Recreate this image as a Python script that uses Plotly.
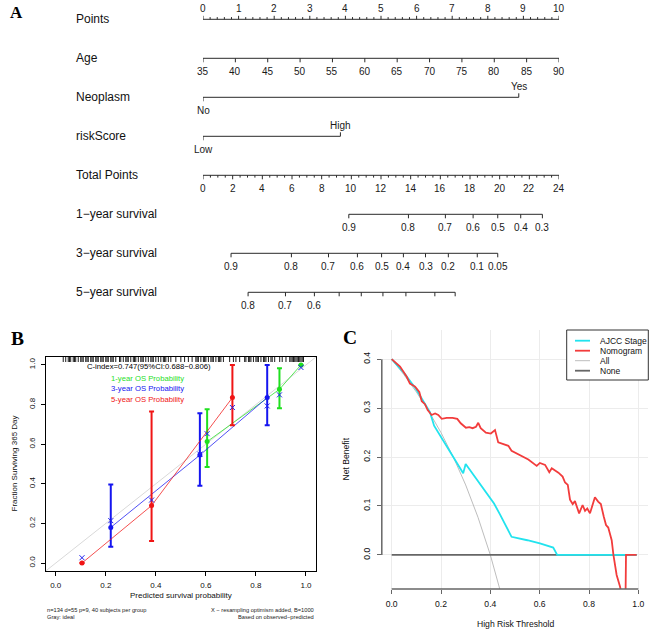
import plotly.graph_objects as go

W, H = 668, 639
SANS = "Liberation Sans, Arial, Helvetica, sans-serif"
SERIF = "Liberation Serif, Times New Roman, serif"

# ---------------- Panel A: nomogram data ----------------
row_names = ["Points", "Age", "Neoplasm", "riskScore", "Total Points",
             "1\u2212year survival", "3\u2212year survival", "5\u2212year survival"]
points_ticks = [0, 1, 2, 3, 4, 5, 6, 7, 8, 9, 10]
age_ticks = [35, 40, 45, 50, 55, 60, 65, 70, 75, 80, 85, 90]
neoplasm_levels = ["No", "Yes"]
neoplasm_points = [0.0, 8.87]
risk_levels = ["Low", "High"]
risk_points = [0.0, 3.86]
total_ticks = [0, 2, 4, 6, 8, 10, 12, 14, 16, 18, 20, 22, 24]
surv1_labels = ["0.9", "0.8", "0.7", "0.6", "0.5", "0.4", "0.3"]
surv1_total = [9.83, 13.85, 16.34, 18.21, 19.87, 21.42, 22.88]
surv3_labels = ["0.9", "0.8", "0.7", "0.6", "0.5", "0.4", "0.3", "0.2", "0.1", "0.05"]
surv3_total = [1.89, 5.96, 8.46, 10.41, 12.04, 13.51, 15.00, 16.54, 18.49, 19.87]
surv5_labels = ["0.8", "0.7", "0.6", "", "", "", "", "", ""]
surv5_total = [3.04, 5.56, 7.51, 9.18, 10.67, 12.13, 13.68, 15.63, 17.00]

# ---------------- Panel B: calibration data ----------------
cal1_pred = [0.605, 0.894, 0.980]
cal1_obs = [0.613, 0.877, 1.000]
cal1_lo = [0.485, 0.781, 1.000]
cal1_hi = [0.776, 0.983, 1.000]
cal1_corr = [0.653, 0.849, 0.987]

cal3_pred = [0.220, 0.576, 0.845]
cal3_obs = [0.180, 0.545, 0.835]
cal3_lo = [0.083, 0.390, 0.695]
cal3_hi = [0.396, 0.756, 1.000]
cal3_corr = [0.214, 0.550, 0.793]

cal5_pred = [0.105, 0.383, 0.706]
cal5_obs = [0.000, 0.290, 0.835]
cal5_lo = [0.000, 0.111, 0.695]
cal5_hi = [0.000, 0.765, 1.000]
cal5_corr = [0.027, 0.318, 0.785]

rug_pred = [0.03, 0.04, 0.05, 0.055, 0.06, 0.07, 0.075, 0.08, 0.09, 0.10, 0.105, 0.11,
            0.12, 0.125, 0.13, 0.14, 0.145, 0.15, 0.16, 0.165, 0.17, 0.18, 0.185, 0.19,
            0.20, 0.205, 0.21, 0.22, 0.225, 0.23, 0.24,
            0.255, 0.26, 0.27, 0.28, 0.285, 0.29, 0.30, 0.31, 0.315, 0.32, 0.33, 0.34,
            0.345, 0.35, 0.36, 0.37, 0.38, 0.385, 0.39, 0.40, 0.41, 0.42, 0.43, 0.435,
            0.44, 0.45, 0.46,
            0.48, 0.50, 0.515, 0.53, 0.545,
            0.56, 0.565, 0.57, 0.58, 0.59, 0.595, 0.60, 0.61, 0.62, 0.625, 0.63, 0.64,
            0.65, 0.655, 0.66, 0.67,
            0.695, 0.71, 0.72, 0.735,
            0.755, 0.76, 0.77, 0.775, 0.78, 0.79, 0.80, 0.805, 0.81, 0.82, 0.83, 0.835,
            0.84, 0.85, 0.86, 0.865, 0.875,
            0.895, 0.905, 0.92,
            0.935, 0.94, 0.945, 0.95, 0.955, 0.96, 0.965, 0.97, 0.975, 0.98, 0.985, 0.99]

# ---------------- Panel C: decision curve data ----------------
nomo_t = [0.0, 0.034, 0.061, 0.074, 0.095, 0.112, 0.122, 0.135, 0.146, 0.162, 0.176, 0.189,
          0.203, 0.223, 0.247, 0.266, 0.280, 0.301, 0.315, 0.328, 0.342, 0.351, 0.361,
          0.382, 0.402, 0.419, 0.432, 0.473, 0.486, 0.520, 0.554, 0.588, 0.601, 0.622,
          0.639, 0.649, 0.676, 0.693, 0.703, 0.714, 0.723, 0.734, 0.743, 0.760, 0.774,
          0.784, 0.793, 0.804, 0.824, 0.837, 0.848, 0.860, 0.869, 0.878, 0.892, 0.899,
          0.912, 0.926, 0.935, 0.948, 0.950, 0.993]
nomo_nb = [0.400, 0.385, 0.364, 0.350, 0.344, 0.333, 0.314, 0.308, 0.296, 0.286, 0.289, 0.286,
           0.278, 0.280, 0.280, 0.278, 0.269, 0.260, 0.261, 0.259, 0.262, 0.270, 0.259,
           0.250, 0.248, 0.255, 0.230, 0.223, 0.213, 0.204, 0.195, 0.182, 0.188, 0.184,
           0.169, 0.177, 0.168, 0.160, 0.148, 0.143, 0.113, 0.104, 0.110, 0.085, 0.102,
           0.090, 0.095, 0.085, 0.118, 0.109, 0.104, 0.078, 0.061, 0.056, 0.030, 0.000,
           -0.041, -0.065, -0.090, -0.090, 0.000, 0.000]
ajcc_t = [0.0, 0.05, 0.10, 0.13, 0.155, 0.172, 0.29, 0.30, 0.34, 0.385, 0.415, 0.439,
          0.459, 0.486, 0.55, 0.601, 0.655, 0.671, 0.993]
ajcc_nb = [0.400, 0.372, 0.338, 0.313, 0.292, 0.264, 0.167, 0.186, 0.158, 0.126, 0.105,
           0.083, 0.064, 0.037, 0.030, 0.0235, 0.015, 0.000, 0.000]
all_t = [0.0, 0.05, 0.10, 0.15, 0.20, 0.25, 0.30, 0.35, 0.40, 0.45]
all_nb = [0.400, 0.368, 0.333, 0.294, 0.250, 0.200, 0.143, 0.077, 0.000, -0.091]
none_t = [0.0, 0.993]
none_nb = [0.0, 0.0]
legend_names = ["AJCC Stage", "Nomogram", "All", "None"]


def fx(px):
    return px / W


def fy(py):
    return 1 - py / H


fig = go.Figure()

# ---------------- Panel A layout helpers ----------------
ROW0, ROW_PX = 19.3, 39.0
A_BOTTOM = 310.0
LABEL_LEFT = 74


def tl(px):
    return px / ROW_PX


LINE_A = "#2a2a2a"
annotations = []


def add_segments(segs, xaxis, color=LINE_A, width=1.0):
    xs, ys = [], []
    for x0, y0, x1, y1 in segs:
        xs += [x0, x1, None]
        ys += [y0, y1, None]
    fig.add_trace(go.Scatter(x=xs, y=ys, mode="lines", xaxis=xaxis, yaxis="y",
                             line=dict(color=color, width=width),
                             hoverinfo="skip", showlegend=False))


def tick_label(text, x, xref, row, above):
    if text == "":
        return
    annotations.append(dict(text=text, x=x, xref=xref, y=row, yref="y",
                            xanchor="center", yanchor="middle",
                            yshift=11.3 if above else -12.8, showarrow=False,
                            font=dict(family=SANS, size=10, color="#1a1a1a")))


# row labels
for i, name in enumerate(row_names):
    annotations.append(dict(text=name, x=fx(LABEL_LEFT), xref="paper", xanchor="left",
                            y=i, yref="y", yanchor="middle", showarrow=False,
                            font=dict(family=SANS, size=12, color="#111")))

# Points row (0)
segs = [(points_ticks[0], 0, points_ticks[-1], 0)]
for v in points_ticks:
    segs.append((v, 0, v, -tl(3.5)))
    tick_label(str(v), v, "x", 0, True)
k = 0
while points_ticks[0] + 0.2 * k < points_ticks[-1]:
    v = points_ticks[0] + 0.2 * k
    if k % 5 != 0:
        segs.append((v, 0, v, -tl(2.2)))
    k += 1
add_segments(segs, "x")

# Age row (1)
segs = [(age_ticks[0], 1, age_ticks[-1], 1)]
for a in age_ticks:
    segs.append((a, 1, a, 1 + tl(4)))
    tick_label(str(a), a, "x5", 1, False)
add_segments(segs, "x5")

# categorical rows (2, 3)
for row, levels, pts in [(2, neoplasm_levels, neoplasm_points), (3, risk_levels, risk_points)]:
    segs = [(min(pts), row, max(pts), row)]
    for j, (lab, p) in enumerate(zip(levels, pts)):
        above = (j % 2 == 1)
        segs.append((p, row, p, row - tl(4) if above else row + tl(4)))
        tick_label(lab, p, "x", row, above)
    add_segments(segs, "x")

# Total points row (4)
segs = [(total_ticks[0], 4, total_ticks[-1], 4)]
for v in total_ticks:
    segs.append((v, 4, v, 4 + tl(4)))
    tick_label(str(v), v, "x2", 4, False)
k = 0
while total_ticks[0] + 0.5 * k < total_ticks[-1]:
    v = total_ticks[0] + 0.5 * k
    if k % 4 != 0:
        segs.append((v, 4, v, 4 + tl(2.3)))
    k += 1
add_segments(segs, "x2")

# survival rows (5, 6, 7)
for row, labels, tots in [(5, surv1_labels, surv1_total), (6, surv3_labels, surv3_total),
                          (7, surv5_labels, surv5_total)]:
    segs = [(min(tots), row, max(tots), row)]
    for lab, t in zip(labels, tots):
        segs.append((t, row, t, row + tl(4)))
        tick_label(lab, t, "x2", row, False)
    add_segments(segs, "x2")

# ---------------- Panel B: calibration ----------------
B_RANGE = [-0.04, 1.04]
b_px_per_unit = (571 - 357) / (B_RANGE[1] - B_RANGE[0])

fig.add_trace(go.Scatter(x=B_RANGE, y=B_RANGE, mode="lines", xaxis="x3", yaxis="y3",
                         line=dict(color="#d9d9d9", width=1), hoverinfo="skip",
                         showlegend=False))
rx, ry = [], []
rug_len = 5.0 / b_px_per_unit
for v in rug_pred:
    rx += [v, v, None]
    ry += [B_RANGE[1], B_RANGE[1] - rug_len, None]
fig.add_trace(go.Scatter(x=rx, y=ry, mode="lines", xaxis="x3", yaxis="y3",
                         line=dict(color="black", width=0.9), hoverinfo="skip",
                         showlegend=False))

series = [
    (cal1_pred, cal1_obs, cal1_lo, cal1_hi, cal1_corr, "#1fe01f", "rgba(31,224,31,0.75)"),
    (cal3_pred, cal3_obs, cal3_lo, cal3_hi, cal3_corr, "#1515f0", "rgba(21,21,240,0.75)"),
    (cal5_pred, cal5_obs, cal5_lo, cal5_hi, cal5_corr, "#f01515", "rgba(240,21,21,0.75)"),
]
for pred, obs, lo, hi, corr, col, lcol in series:
    fig.add_trace(go.Scatter(x=pred, y=obs, mode="lines", xaxis="x3", yaxis="y3",
                             line=dict(color=lcol, width=1), hoverinfo="skip",
                             showlegend=False))
    fig.add_trace(go.Scatter(
        x=pred, y=obs, mode="markers", xaxis="x3", yaxis="y3",
        marker=dict(color=col, size=5, symbol="circle"),
        error_y=dict(type="data", symmetric=False,
                     array=[h - o for h, o in zip(hi, obs)],
                     arrayminus=[o - l for o, l in zip(obs, lo)],
                     color=col, thickness=2, width=2.5),
        hoverinfo="skip", showlegend=False))
for pred, obs, lo, hi, corr, col, lcol in series:
    fig.add_trace(go.Scatter(x=pred, y=corr, mode="markers", xaxis="x3", yaxis="y3",
                             marker=dict(symbol="x-thin", size=5, color="#2020f0",
                                         line=dict(color="#2020f0", width=1)),
                             hoverinfo="skip", showlegend=False))

b_text = [("C-index=0.747(95%CI:0.688\u22120.806)", 0.116, 0.990, "black"),
          ("1-year OS Probability", 0.212, 0.934, "#1fe01f"),
          ("3-year OS Probability", 0.212, 0.880, "#1515f0"),
          ("5-year OS Probability", 0.212, 0.828, "#f01515")]
for txt, x, y, col in b_text:
    annotations.append(dict(text=txt, x=x, y=y, xref="x3", yref="y3", xanchor="left",
                            yanchor="middle", showarrow=False,
                            font=dict(family=SANS, size=7.7, color=col)))


def paper_text(text, px, py, size, anchor="center", angle=0, color="#111"):
    annotations.append(dict(text=text, x=fx(px), y=fy(py), xref="paper", yref="paper",
                            xanchor=anchor, yanchor="middle", showarrow=False,
                            textangle=angle, font=dict(family=SANS, size=size, color=color)))


paper_text("Predicted survival probability", 181, 595.7, 8)
paper_text("Fraction Surviving 365 Day", 13.5, 464, 8, angle=-90)
paper_text("n=134 d=55 p=9, 40 subjects per group", 45, 609.7, 5.7, "left", color="#222")
paper_text("Gray: ideal", 45, 616.7, 5.7, "left", color="#222")
paper_text("X \u2212 resampling optimism added, B=1000", 316, 609.7, 5.7, "right", color="#222")
paper_text("Based on observed\u2212predicted", 316, 616.7, 5.7, "right", color="#222")

# ---------------- Panel C: decision curve ----------------
C_COLORS = {"AJCC Stage": "#22e3ee", "Nomogram": "#f23c3c", "All": "#bdbdbd", "None": "#666666"}
C_WIDTHS = {"AJCC Stage": 1.8, "Nomogram": 1.8, "All": 1.0, "None": 1.8}
c_data = {"All": (all_t, all_nb), "None": (none_t, none_nb),
          "AJCC Stage": (ajcc_t, ajcc_nb), "Nomogram": (nomo_t, nomo_nb)}
for name in ["All", "None", "AJCC Stage", "Nomogram"]:
    t, nb = c_data[name]
    fig.add_trace(go.Scatter(x=t, y=nb, mode="lines", xaxis="x4", yaxis="y4", name=name,
                             line=dict(color=C_COLORS[name], width=C_WIDTHS[name]),
                             hoverinfo="skip", showlegend=False))

C_X = [-0.04, 1.04]
C_Y = [-0.0696, 0.4596]
c_xticks = [0, 0.2, 0.4, 0.6, 0.8, 1.0]
c_yticks = [0, 0.1, 0.2, 0.3, 0.4]

shapes = [
    dict(type="line", xref="x4", yref="y4 domain", x0=c_xticks[0], x1=c_xticks[-1], y0=0, y1=0,
         line=dict(color="#666", width=1.5)),
    dict(type="line", xref="x4 domain", yref="y4", x0=0, x1=0, y0=c_yticks[0], y1=c_yticks[-1],
         line=dict(color="#666", width=1.5)),
]

# manual legend (box at top right of panel C)
LG_L, LG_T, LG_R, LG_B = 566.7, 330.0, 648.3, 380.0
shapes.append(dict(type="rect", xref="paper", yref="paper", x0=fx(LG_L), x1=fx(LG_R),
                   y0=fy(LG_B), y1=fy(LG_T), line=dict(color="#333", width=1),
                   fillcolor="white", layer="above"))
for i, name in enumerate(legend_names):
    yy = 340.7 + 10.0 * i
    shapes.append(dict(type="line", xref="paper", yref="paper", x0=fx(575), x1=fx(590),
                       y0=fy(yy), y1=fy(yy), layer="above",
                       line=dict(color=C_COLORS[name], width=C_WIDTHS[name])))
    paper_text(name, 597.5, yy, 8.5, "left")

paper_text("High Risk Threshold", 515, 624.3, 8.6)
paper_text("Net Benefit", 345, 459.5, 8.6, angle=-90)

# panel letters
for letter, px, py, size in [("A", 16, 12, 17), ("B", 17.3, 338.3, 19.5), ("C", 350, 337.3, 19.5)]:
    annotations.append(dict(text="<b>%s</b>" % letter, x=fx(px), y=fy(py), xref="paper",
                            yref="paper", xanchor="center", yanchor="middle", showarrow=False,
                            font=dict(family=SERIF, size=size, color="black")))

hidden = dict(visible=False, fixedrange=True)
fig.update_layout(
    width=W, height=H, margin=dict(l=0, r=0, t=0, b=0),
    paper_bgcolor="white", plot_bgcolor="white", showlegend=False,
    font=dict(family=SANS),
    xaxis=dict(domain=[fx(203), fx(559)], range=[0, 10], anchor="y", **hidden),
    xaxis2=dict(overlaying="x", range=[0, 24], anchor="y", **hidden),
    xaxis5=dict(overlaying="x", range=[35, 90], anchor="y", **hidden),
    yaxis=dict(domain=[fy(A_BOTTOM), 1], range=[(A_BOTTOM - ROW0) / ROW_PX, -ROW0 / ROW_PX],
               anchor="x", **hidden),
    xaxis3=dict(domain=[fx(45.7), fx(316)], range=B_RANGE, anchor="y3", showline=True,
                mirror=True, linecolor="black", linewidth=1, ticks="outside", ticklen=4,
                tickcolor="black", tickvals=[0, 0.2, 0.4, 0.6, 0.8, 1.0],
                ticktext=["0.0", "0.2", "0.4", "0.6", "0.8", "1.0"],
                tickfont=dict(size=8, color="#111"), showgrid=False, zeroline=False,
                ticklabelstandoff=2),
    yaxis3=dict(domain=[fy(571), fy(357)], range=B_RANGE, anchor="x3", showline=True,
                mirror=True, linecolor="black", linewidth=1, ticks="outside", ticklen=4,
                tickcolor="black", tickvals=[0, 0.2, 0.4, 0.6, 0.8, 1.0],
                ticktext=["0.0", "0.2", "0.4", "0.6", "0.8", "1.0"], tickangle=-90,
                tickfont=dict(size=8, color="#111"), showgrid=False, zeroline=False,
                ticklabelstandoff=3),
    xaxis4=dict(domain=[fx(381.8), fx(648.2)], range=C_X, anchor="y4", showline=False,
                ticks="outside", ticklen=4, tickcolor="#666", tickwidth=1.2,
                tickvals=c_xticks, ticktext=["0.0", "0.2", "0.4", "0.6", "0.8", "1.0"],
                tickfont=dict(size=8.6, color="#111"), showgrid=True, gridcolor="#ececec",
                gridwidth=1, zeroline=False, ticklabelstandoff=3),
    yaxis4=dict(domain=[fy(589), fy(330)], range=C_Y, anchor="x4", showline=False,
                ticks="outside", ticklen=4, tickcolor="#666", tickwidth=1.2,
                tickvals=c_yticks, ticktext=["0.0", "0.1", "0.2", "0.3", "0.4"],
                tickangle=-90, tickfont=dict(size=8.6, color="#111"), showgrid=True,
                gridcolor="#ececec", gridwidth=1, zeroline=False, ticklabelstandoff=3),
    annotations=annotations,
    shapes=shapes,
)

fig.write_html("out.html", config={"displayModeBar": False},
               post_script="document.body.style.margin='0px';")
